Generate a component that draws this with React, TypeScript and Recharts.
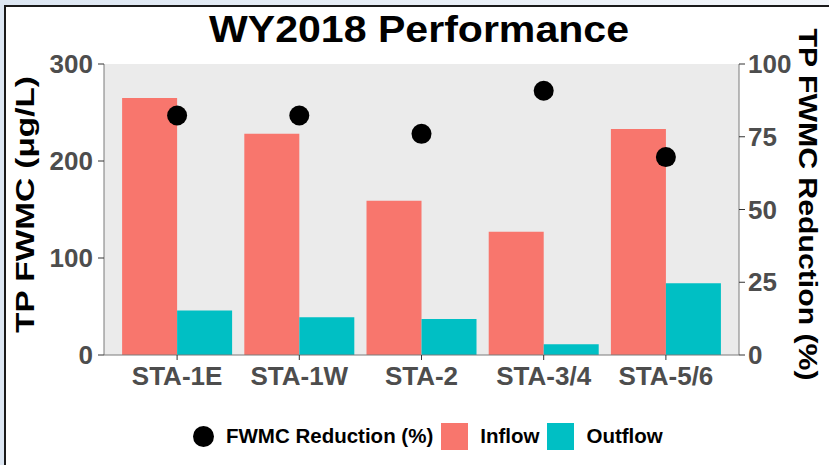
import React from 'react';
import { ComposedChart, Bar, Line, XAxis, YAxis, CartesianGrid } from 'recharts';

// values
const sites = ['STA-1E', 'STA-1W', 'STA-2', 'STA-3/4', 'STA-5/6'];
const inflow = [265, 228, 159, 127, 233];
const outflow = [46, 39, 37, 11, 74];
const reduction = [82.3, 82.3, 76, 90.8, 68];
const leftTicks = [0, 100, 200, 300];
const rightTicks = [0, 25, 50, 75, 100];

const FONT = '"Liberation Sans", Arial, Helvetica, sans-serif';
const INFLOW = '#F8766D';
const OUTFLOW = '#00BFC4';
const BORDER = '#7a7a7a';

const rows = sites.map((site, i) => ({
  site,
  inflow: inflow[i],
  outflow: outflow[i],
  reduction: reduction[i],
}));

const legendItems = [
  { label: 'FWMC Reduction (%)', kind: 'dot', color: '#000' },
  { label: 'Inflow', kind: 'box', color: INFLOW },
  { label: 'Outflow', kind: 'box', color: OUTFLOW },
];

const tickStyle = { fill: '#4D4D4D', fontSize: 26, fontWeight: 'bold', fontFamily: FONT };

const AxisTitle = (props: any) => {
  const { viewBox, text, side, length } = props;
  if (!viewBox) return null;
  const cx = side === 'left' ? viewBox.x + 25 : viewBox.x + viewBox.width - 21;
  const cy = viewBox.y + viewBox.height / 2 - 5;
  const angle = side === 'left' ? -90 : 90;
  return (
    <text
      x={cx}
      y={cy}
      transform={`rotate(${angle}, ${cx}, ${cy})`}
      textAnchor="middle"
      dominantBaseline="central"
      fontSize={26}
      fontWeight="bold"
      fontFamily={FONT}
      fill="#000"
      textLength={length}
      lengthAdjust="spacingAndGlyphs"
    >
      {text}
    </text>
  );
};

const Legend = () => (
  <div
    style={{
      position: 'absolute',
      left: 193,
      top: 422,
      height: 28,
      display: 'flex',
      alignItems: 'center',
      fontFamily: FONT,
      fontWeight: 'bold',
      fontSize: 20.5,
      color: '#000',
    }}
  >
    {legendItems.map(item => (
      <div key={item.label} style={{ display: 'flex', alignItems: 'center', marginRight: 8 }}>
        <span
          style={{
            display: 'inline-block',
            width: item.kind === 'dot' ? 21 : 27,
            height: item.kind === 'dot' ? 21 : 27,
            borderRadius: item.kind === 'dot' ? '50%' : 0,
            background: item.color,
            marginRight: 12,
          }}
        />
        <span>{item.label}</span>
      </div>
    ))}
  </div>
);

export default function App() {
  return (
    <div style={{ position: 'absolute', left: 0, top: 0, width: 829, height: 465, overflow: 'hidden', background: 'linear-gradient(90deg, #dde7f3, #f3f6fa)' }}>
      <div
        style={{
          position: 'absolute',
          left: 4,
          top: 5,
          right: 0,
          bottom: 0,
          background: '#fff',
          borderLeft: '2px solid #1a1a1a',
          borderTop: '2px solid #1a1a1a',
        }}
      />
      <div style={{ position: 'absolute', left: 0, top: 0 }}>
        <ComposedChart
          width={829}
          height={465}
          data={rows}
          margin={{ top: 64, right: 0, bottom: 70, left: 0 }}
          barCategoryGap="5%"
          barGap={0}
        >
          <CartesianGrid yAxisId="left" horizontal={false} vertical={false} fill="#EBEBEB" />
          <XAxis
            dataKey="site"
            padding={{ left: 12, right: 12 }}
            height={40}
            tick={tickStyle}
            tickSize={5}
            tickMargin={7}
            tickLine={{ stroke: '#333' }}
            axisLine={{ stroke: BORDER }}
            interval={0}
          />
          <XAxis
            xAxisId="top"
            orientation="top"
            dataKey="site"
            padding={{ left: 12, right: 12 }}
            height={0}
            tick={false}
            tickLine={false}
            axisLine={{ stroke: BORDER }}
          />
          <YAxis
            yAxisId="left"
            width={104}
            domain={[0, 300]}
            ticks={leftTicks}
            tick={tickStyle}
            tickSize={6}
            tickMargin={5}
            tickLine={{ stroke: '#333' }}
            axisLine={{ stroke: BORDER }}
            label={<AxisTitle side="left" text="TP FWMC (μg/L)" length={257} />}
          />
          <YAxis
            yAxisId="right"
            orientation="right"
            width={90}
            domain={[0, 100]}
            ticks={rightTicks}
            tick={tickStyle}
            tickSize={6}
            tickMargin={3}
            tickLine={{ stroke: '#333' }}
            axisLine={{ stroke: BORDER }}
            label={<AxisTitle side="right" text="TP FWMC Reduction (%)" length={352} />}
          />
          <Bar yAxisId="left" dataKey="inflow" name="Inflow" fill={INFLOW} isAnimationActive={false} />
          <Bar yAxisId="left" dataKey="outflow" name="Outflow" fill={OUTFLOW} isAnimationActive={false} />
          <Line
            yAxisId="right"
            dataKey="reduction"
            name="FWMC Reduction (%)"
            stroke="none"
            dot={{ r: 10, fill: '#000', stroke: 'none' }}
            activeDot={false}
            isAnimationActive={false}
          />
        </ComposedChart>
      </div>
      <svg width={829} height={60} style={{ position: 'absolute', left: 0, top: 0, pointerEvents: 'none' }}>
        <text
          x={419}
          y={42}
          textAnchor="middle"
          fontSize={36}
          fontWeight="bold"
          fontFamily={FONT}
          fill="#000"
          textLength={420}
          lengthAdjust="spacingAndGlyphs"
        >
          WY2018 Performance
        </text>
      </svg>
      <Legend />
    </div>
  );
}
